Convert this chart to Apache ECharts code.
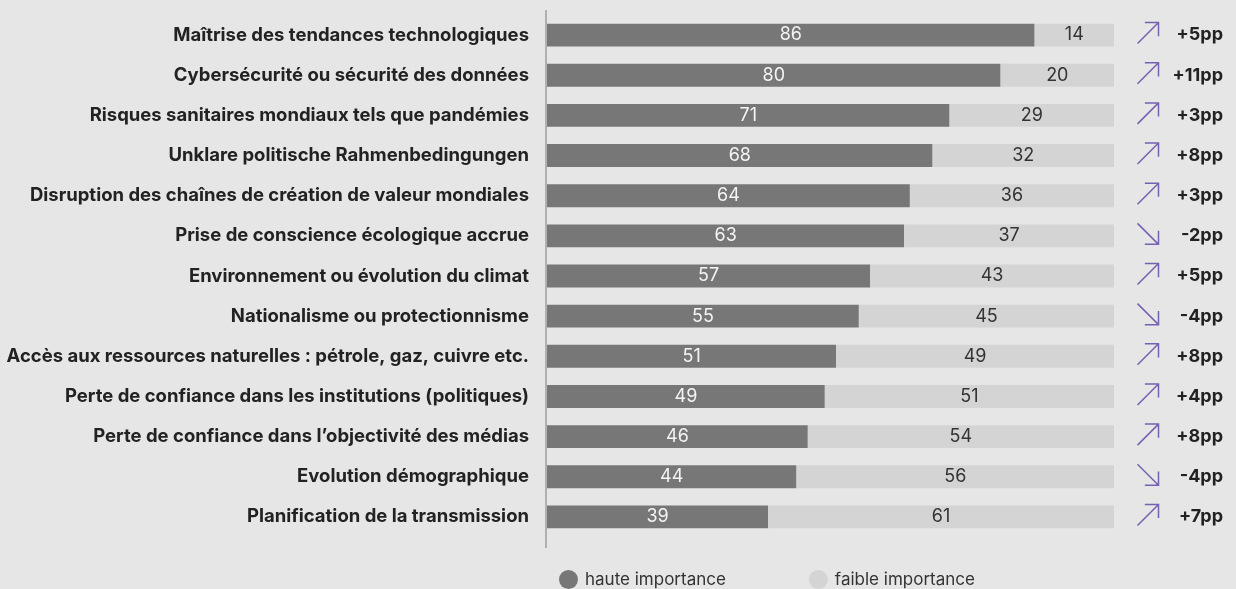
<!DOCTYPE html>
<html>
<head>
<meta charset="utf-8">
<script src="https://cdn.jsdelivr.net/npm/echarts@6/dist/echarts.min.js"></script>
<style>
  html, body { margin: 0; padding: 0; background: #e6e6e6; }
  #chart { width: 1236px; height: 589px; }
</style>
</head>
<body>
<div id="chart"></div>
<script>
var categories = [
    'Maîtrise des tendances technologiques',
    'Cybersécurité ou sécurité des données',
    'Risques sanitaires mondiaux tels que pandémies',
    'Unklare politische Rahmenbedingungen',
    'Disruption des chaînes de création de valeur mondiales',
    'Prise de conscience écologique accrue',
    'Environnement ou évolution du climat',
    'Nationalisme ou protectionnisme',
    'Accès aux ressources naturelles : pétrole, gaz, cuivre etc.',
    'Perte de confiance dans les institutions (politiques)',
    'Perte de confiance dans l’objectivité des médias',
    'Evolution démographique',
    'Planification de la transmission'
];
var hauteValues = [86, 80, 71, 68, 64, 63, 57, 55, 51, 49, 46, 44, 39];
var faibleValues = [14, 20, 29, 32, 36, 37, 43, 45, 49, 51, 54, 56, 61];
var changeLabels = ['+5pp', '+11pp', '+3pp', '+8pp', '+3pp', '-2pp', '+5pp', '-4pp', '+8pp', '+4pp', '+8pp', '-4pp', '+7pp'];

var arrowUp = 'path://M0,20 L20,0 M7,0 L20,0 L20,13';
var arrowDown = 'path://M0,0 L20,20 M7,20 L20,20 L20,7';

var chart = echarts.init(document.getElementById('chart'));

var option = {
    backgroundColor: '#e6e6e6',
    textStyle: { fontFamily: 'Inter, "Noto Sans", sans-serif' },
    animation: false,
    legend: {
        data: ['haute importance', 'faible importance'],
        left: 554,
        top: 565,
        icon: 'circle',
        itemWidth: 19,
        itemHeight: 19,
        itemGap: 83,
        textStyle: { fontSize: 17, color: '#333', padding: [0, 0, 0, 2] }
    },
    grid: [
        { left: 547, width: 567, top: 15, height: 522 },
        { left: 1137, width: 22, top: 15, height: 522 }
    ],
    xAxis: [
        { type: 'value', min: 0, max: 100, show: false, gridIndex: 0 },
        { type: 'value', min: 0, max: 1, show: false, gridIndex: 1 }
    ],
    yAxis: [
        {
            type: 'category',
            data: categories,
            inverse: true,
            gridIndex: 0,
            axisTick: { show: false },
            axisLine: { show: false },
            axisLabel: {
                margin: 18,
                fontSize: 18.5,
                fontWeight: 'bold',
                color: '#222'
            }
        },
        {
            type: 'category',
            data: changeLabels,
            inverse: true,
            gridIndex: 1,
            position: 'right',
            axisTick: { show: false },
            axisLine: { show: false },
            axisLabel: {
                margin: 64,
                align: 'right',
                fontSize: 18,
                fontWeight: 'bold',
                color: '#222'
            }
        }
    ],
    graphic: [
        {
            type: 'line',
            shape: { x1: 546, y1: 10, x2: 546, y2: 548 },
            style: { stroke: '#b0b0b0', lineWidth: 2 }
        }
    ],
    series: [
        {
            name: 'haute importance',
            type: 'bar',
            stack: 'total',
            data: hauteValues,
            barCategoryGap: '43%',
            itemStyle: { color: '#777777' },
            label: { show: true, position: 'inside', color: '#f4f4f4', fontSize: 18 }
        },
        {
            name: 'faible importance',
            type: 'bar',
            stack: 'total',
            data: faibleValues,
            barCategoryGap: '43%',
            itemStyle: { color: '#d4d4d4' },
            label: { show: true, position: 'inside', color: '#333', fontSize: 18 }
        },
        {
            name: 'trend',
            type: 'scatter',
            xAxisIndex: 1,
            yAxisIndex: 1,
            symbolSize: 21,
            symbolOffset: [0, -2],
            data: changeLabels.map(function (c, i) {
                return {
                    value: [0.5, i],
                    symbol: c.charAt(0) === '-' ? arrowDown : arrowUp
                };
            }),
            itemStyle: { color: 'none', borderColor: '#5b3fa3', borderWidth: 1.5 },
            silent: true
        }
    ]
};

chart.setOption(option);
</script>
</body>
</html>
